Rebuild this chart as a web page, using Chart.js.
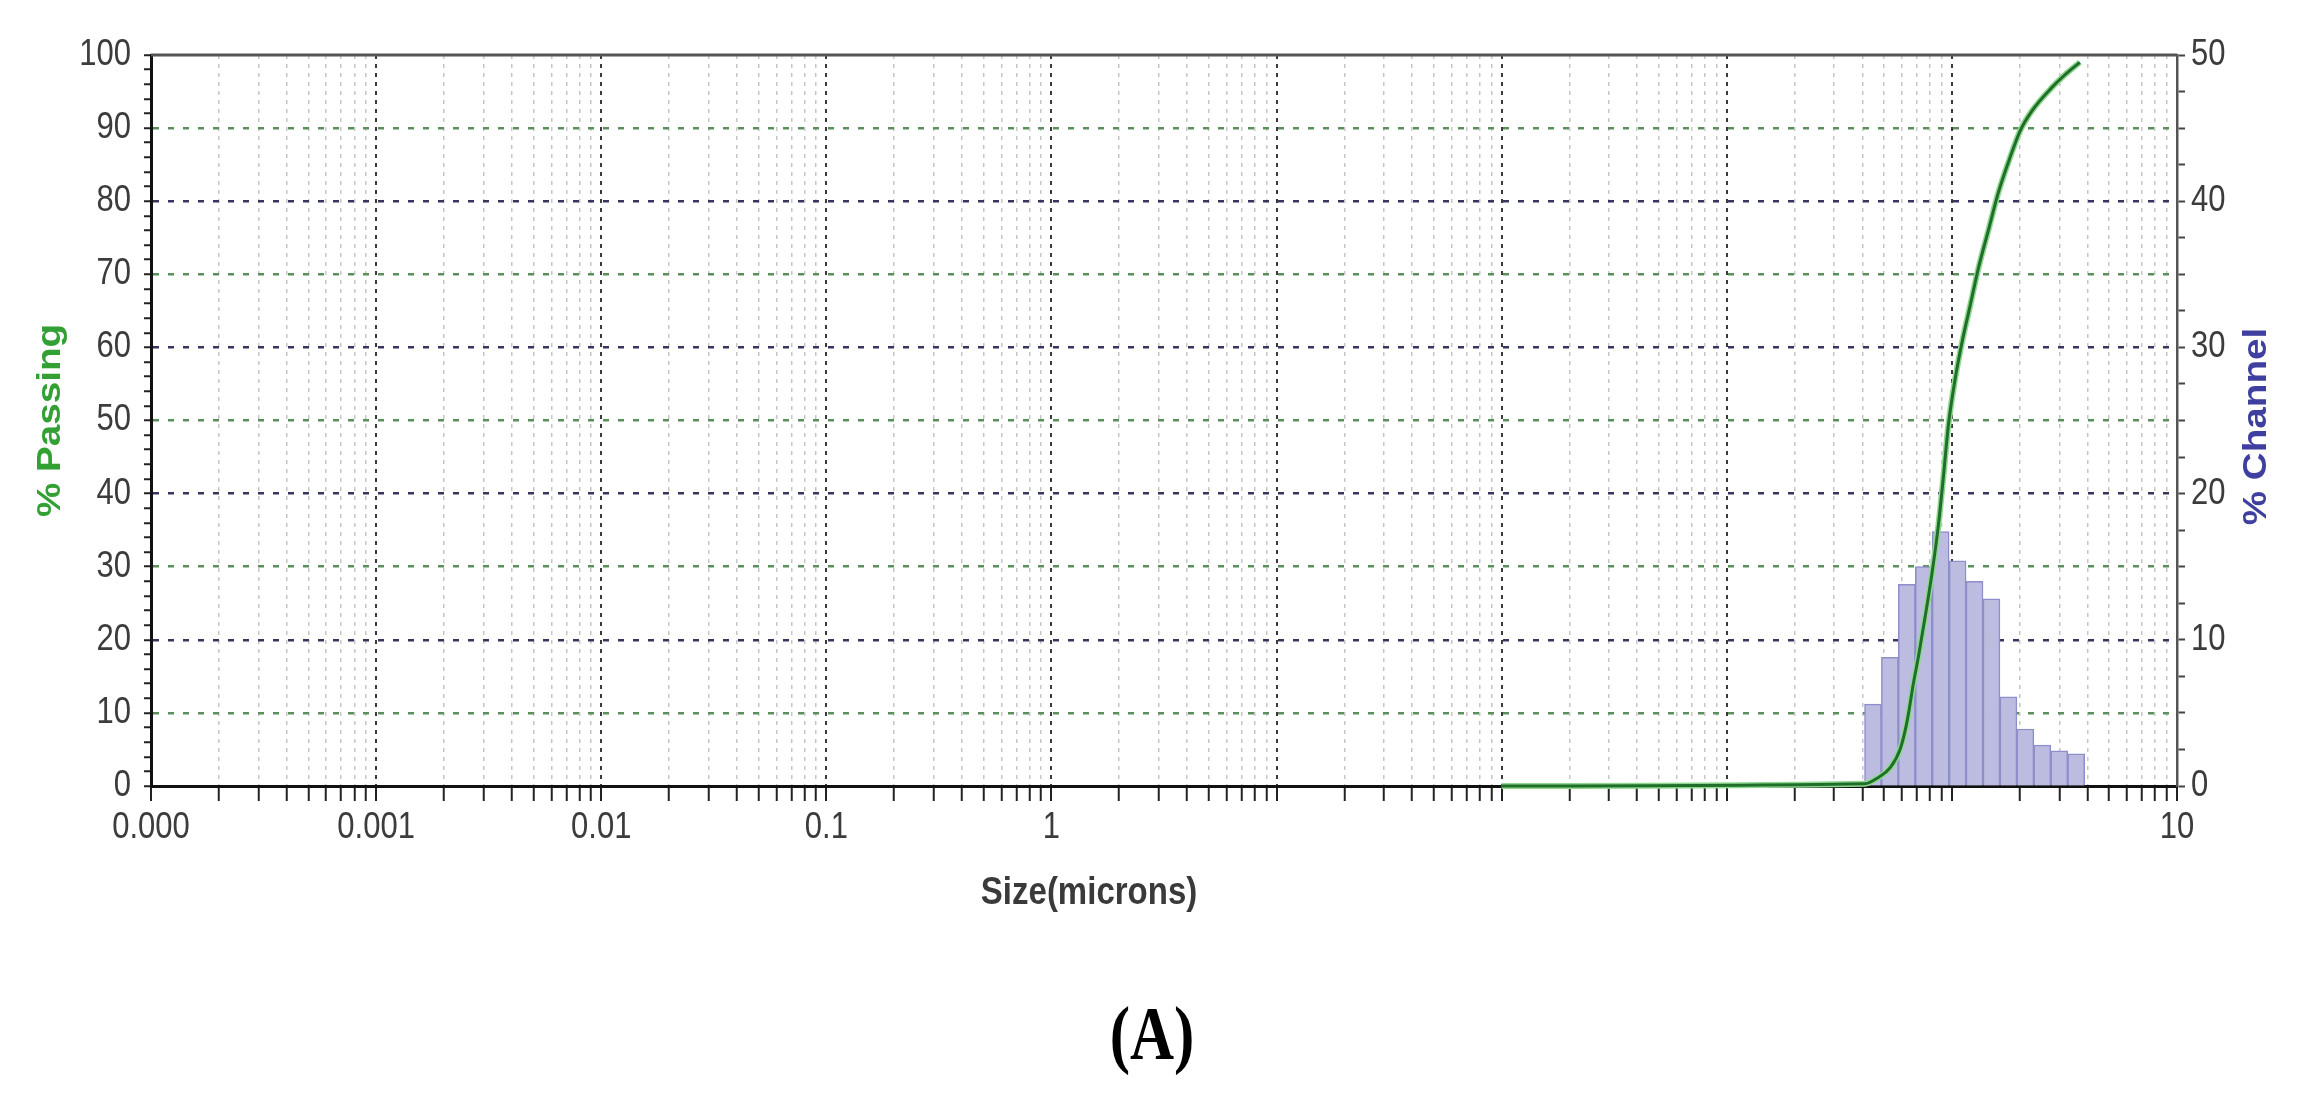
<!DOCTYPE html>
<html>
<head>
<meta charset="utf-8">
<script src="https://cdn.jsdelivr.net/npm/chart.js@4.4.0/dist/chart.umd.min.js"></script>
<style>
  body { margin: 0; background: #fff; }
  #wrap { position: relative; width: 2302px; height: 1095px; }
  #panel { position: absolute; left: 1152px; top: 1033px; transform: translate(-50%, -50%) scaleY(1.25);
           font: bold 61px "Liberation Serif", "Times New Roman", serif; color: #000; line-height: 1; }
</style>
</head>
<body>
<div id="wrap">
  <canvas id="psd" width="2302" height="1095"></canvas>
  <div id="panel">(A)</div>
</div>
<script>
// size axis, decade labels as printed on the plot
const xTickLabels = ['0.000', '0.001', '0.01', '0.1', '1', '', '', '', '', '10'];
const xMin = 1e-8;
const xMax = 10;

// cumulative % passing
const passSizes  = [0.01, 0.41, 0.473, 0.532, 0.59, 0.631, 0.676, 0.711, 0.762, 0.815, 0.872, 0.918, 0.966,
                    1.034, 1.106, 1.205, 1.311, 1.452, 1.609, 1.814, 2.008, 2.26, 2.77, 3.18, 3.70];
const passValues = [0, 0.3, 1.2, 2.5, 5.1, 8.7, 14.2, 17.8, 23.3, 29.0, 35.8, 42.5, 49.5,
                    55.7, 60.5, 65.7, 70.8, 76.0, 81.2, 86.0, 89.6, 92.3, 95.5, 97.3, 99.0];

// % channel histogram (channel centres, microns)
const channelSizes  = [0.446, 0.530, 0.631, 0.750, 0.892, 1.060, 1.261, 1.499, 1.783, 2.121, 2.522, 2.999, 3.566];
const channelValues = [5.6, 8.8, 13.8, 15.0, 17.4, 15.4, 14.0, 12.8, 6.1, 3.9, 2.8, 2.4, 2.2];

const GREEN = '#33a033';
const NAVY = '#3f3f9f';
const SANS = "'Liberation Sans', Arial, sans-serif";
const STRETCH = 1.17;   // the source picture is taller than wide

function isDecade(v) {
  const l = Math.log10(v);
  return Math.abs(l - Math.round(l)) < 1e-6;
}

function stretchedText(ctx, text, x, y, rotate) {
  ctx.save();
  ctx.translate(x, y);
  if (rotate) {
    ctx.rotate(-Math.PI / 2);
    ctx.scale(STRETCH, 1);
  } else {
    ctx.scale(1, STRETCH);
  }
  ctx.fillText(text, 0, 0);
  ctx.restore();
}

const decorations = {
  id: 'decorations',
  beforeDatasetsDraw(chart) {
    const { ctx, chartArea: a } = chart;
    ctx.save();
    ctx.strokeStyle = '#555';
    ctx.lineWidth = 3;
    ctx.beginPath();
    ctx.moveTo(a.left, a.top);
    ctx.lineTo(a.right, a.top);
    ctx.stroke();
    ctx.restore();
  },
  afterDraw(chart) {
    const { ctx, chartArea: a, scales } = chart;
    ctx.save();
    ctx.textBaseline = 'middle';

    // tick labels
    ctx.font = '31px ' + SANS;
    ctx.fillStyle = '#3c3c3c';
    ctx.textAlign = 'center';
    scales.x.ticks.forEach(t => {
      if (t.label) stretchedText(ctx, t.label, scales.x.getPixelForValue(t.value), a.bottom + 42);
    });
    ctx.textAlign = 'right';
    scales.y.ticks.forEach(t => {
      if (t.label !== '') stretchedText(ctx, t.label, a.left - 20, scales.y.getPixelForValue(t.value));
    });
    ctx.textAlign = 'left';
    scales.y1.ticks.forEach(t => {
      if (t.label !== '') stretchedText(ctx, t.label, a.right + 14, scales.y1.getPixelForValue(t.value));
    });

    // axis titles
    const midY = (a.top + a.bottom) / 2;
    ctx.textAlign = 'center';
    ctx.font = 'bold 33px ' + SANS;
    ctx.fillStyle = GREEN;
    stretchedText(ctx, '% Passing', a.left - 100, midY, true);
    ctx.fillStyle = NAVY;
    stretchedText(ctx, '% Channel', a.right + 80, midY + 6, true);

    ctx.font = 'bold 33px ' + SANS;
    ctx.fillStyle = '#3a3a3a';
    stretchedText(ctx, 'Size(microns)', a.left + (a.right - a.left) * 0.463, a.bottom + 107);
    ctx.restore();
  }
};

new Chart(document.getElementById('psd'), {
  type: 'bar',
  data: {
    datasets: [
      {
        type: 'line',
        label: '% Passing',
        data: passSizes.map((x, i) => ({ x, y: passValues[i] })),
        yAxisID: 'y',
        borderColor: '#1f6e2a',
        borderWidth: 3,
        pointRadius: 0,
        cubicInterpolationMode: 'monotone',
        clip: false
      },
      {
        type: 'line',
        label: 'halo',
        data: passSizes.map((x, i) => ({ x, y: passValues[i] })),
        yAxisID: 'y',
        borderColor: '#8fd88f',
        borderWidth: 6,
        pointRadius: 0,
        cubicInterpolationMode: 'monotone',
        clip: false
      },
      {
        type: 'bar',
        label: '% Channel',
        data: channelSizes.map((x, i) => ({ x, y: channelValues[i] })),
        yAxisID: 'y1',
        backgroundColor: '#bcbce0',
        borderColor: '#8e8ecb',
        borderWidth: 1.5,
        barThickness: 'flex',
        categoryPercentage: 1,
        barPercentage: 1
      }
    ]
  },
  options: {
    responsive: false,
    animation: false,
    events: [],
    layout: { padding: { top: 55 } },
    plugins: { legend: { display: false }, tooltip: { enabled: false } },
    scales: {
      x: {
        type: 'logarithmic',
        min: xMin,
        max: xMax,
        offset: false,
        afterBuildTicks: scale => {
          const ticks = [];
          for (let e = -8; e < 1; e++) {
            for (let m = 1; m < 10; m++) ticks.push({ value: m * Math.pow(10, e), major: m === 1 });
          }
          ticks.push({ value: xMax, major: true });
          scale.ticks = ticks;
        },
        afterFit: scale => { scale.height = 309; },
        grid: {
          offset: false,
          color: c => isDecade(c.tick.value) ? '#3a3a3a' : '#c6c6c6',
          lineWidth: c => isDecade(c.tick.value) ? 2 : 1.5,
          tickColor: '#222',
          tickWidth: 2,
          tickLength: 15,
          tickBorderDash: []
        },
        border: { color: '#111', width: 3, dash: [4, 5] },
        ticks: {
          display: false,
          autoSkip: false,
          callback: v => isDecade(v) ? xTickLabels[Math.round(Math.log10(v)) + 8] : ''
        }
      },
      y: {
        position: 'left',
        min: 0,
        max: 100,
        afterFit: scale => { scale.width = 151; },
        grid: {
          color: c => {
            const v = c.tick.value;
            if (v % 10 !== 0 || v === 0 || v === 100) return 'rgba(0,0,0,0)';
            return (v / 10) % 2 ? '#5b8f5b' : '#36365e';
          },
          lineWidth: 2.5,
          tickColor: '#222',
          tickWidth: 2,
          tickLength: 7,
          tickBorderDash: []
        },
        border: { color: '#111', width: 3, dash: [6, 9] },
        ticks: {
          display: false,
          stepSize: 2,
          autoSkip: false,
          callback: v => v % 10 === 0 ? String(v) : ''
        }
      },
      y1: {
        position: 'right',
        min: 0,
        max: 50,
        afterFit: scale => { scale.width = 125; },
        grid: { drawOnChartArea: false, tickColor: '#444', tickWidth: 2, tickLength: 8 },
        border: { color: '#555', width: 2.5 },
        ticks: {
          display: false,
          stepSize: 2.5,
          autoSkip: false,
          callback: v => v % 10 === 0 ? String(v) : ''
        }
      }
    }
  },
  plugins: [decorations]
});
</script>
</body>
</html>
